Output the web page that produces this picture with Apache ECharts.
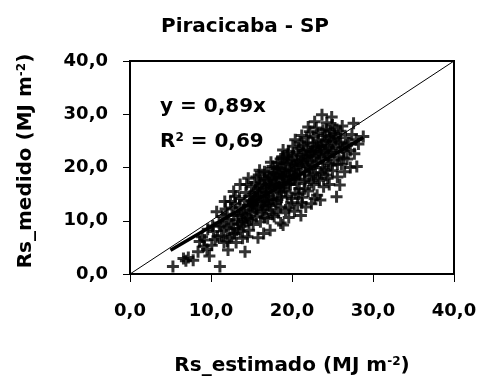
<!DOCTYPE html>
<html>
<head>
<meta charset="utf-8">
<script src="https://cdn.jsdelivr.net/npm/echarts@6/dist/echarts.min.js"></script>
<style>html,body{margin:0;padding:0;background:#fff;}#c{width:480px;height:381px;}</style>
</head>
<body>
<div id="c"></div>
<script>
const titleText = 'Piracicaba - SP';
const tickLabels = ['0,0', '10,0', '20,0', '30,0', '40,0'];
const equationText = 'y = 0,89x';
const r2Value = '0,69';
const oneToOne = [[0, 0], [40, 40]];
const fitLine = [[5, 4.45], [28.8, 25.63]];
const points = [
[5.3,1.4],[6.6,2.9],[7.8,2.6],[7.2,3.1],[6.9,2.5],[8.4,4.2],[8.6,6.1],[9.8,3.4],[9.1,5.2],[8.9,7.0],[9.5,4.6],
[10.1,5.4],[10.5,6.5],[10.3,8.0],[11.1,1.4],[10.7,11.7],[11.0,9.6],[11.3,7.2],[11.6,5.9],[11.9,8.8],[11.7,13.6],[11.4,10.8],[12.1,4.5],[12.3,6.8],[12.0,11.2],[12.5,9.4],[12.8,15.5],[12.6,12.4],[12.9,7.6],[12.2,10.0],
[13.1,5.9],[13.3,8.5],[13.0,13.2],[13.6,16.8],[13.4,11.0],[13.8,9.8],[13.5,14.2],[13.9,6.7],[14.2,4.2],[14.0,12.0],[14.3,15.3],[14.6,18.0],[14.4,10.5],[14.7,8.2],[14.1,13.8],[14.8,14.6],[14.9,11.6],[14.5,7.0],[15.0,16.4],[15.2,9.3],[15.1,12.9],[15.4,17.2],[15.3,14.0],[15.6,10.8],[15.8,6.8],[15.5,15.6],[15.7,12.2],[15.9,18.6],
[16.0,19.5],[16.2,13.5],[16.1,9.8],[16.4,16.0],[16.3,11.4],[16.6,17.6],[16.5,7.6],[16.8,14.6],[16.7,12.6],[16.9,19.0],[17.0,10.4],[17.2,16.8],[17.1,14.0],[17.3,8.2],[17.5,18.2],[17.4,12.0],[17.6,20.2],[17.7,15.2],[17.8,10.8],[17.9,17.0],[18.0,13.2],[18.2,21.0],[18.1,18.6],[18.3,11.5],[18.4,15.8],[18.5,19.8],[18.6,9.6],[18.7,14.4],[18.8,22.0],[18.9,9.2],[18.9,23.3],[18.8,17.2],[18.6,12.6],
[19.0,16.2],[19.1,20.6],[19.2,12.0],[19.3,18.4],[19.4,14.6],[19.5,22.6],[19.6,10.6],[19.7,19.4],[19.8,16.8],[19.9,13.4],[20.0,21.4],[20.1,24.0],[20.2,17.8],[20.3,11.8],[20.4,15.2],[20.5,20.0],[20.6,22.8],[20.7,13.0],[20.8,18.8],[20.9,16.0],[21.0,24.8],[21.1,11.0],[21.2,20.6],[21.3,14.4],[21.4,23.2],[21.5,17.4],[21.6,19.2],[21.7,12.6],[21.8,25.6],[21.9,21.8],
[22.0,15.6],[22.1,18.4],[22.2,26.7],[22.3,23.0],[22.4,13.2],[22.5,20.4],[22.6,24.6],[22.7,16.8],[22.8,22.0],[22.9,19.0],[23.0,27.4],[23.1,14.8],[23.2,21.2],[23.3,25.2],[23.4,17.6],[23.5,13.9],[23.6,23.6],[23.7,29.9],[23.8,20.0],[23.9,16.4],[24.0,26.0],[24.1,22.4],[24.2,18.6],[24.3,28.4],[24.4,24.2],[24.5,20.8],[24.6,16.8],[24.7,26.8],[24.8,22.8],[24.9,29.5],
[25.0,19.4],[25.1,25.0],[25.2,21.4],[25.3,27.4],[25.5,14.5],[25.4,23.8],[25.6,18.2],[25.7,26.2],[25.8,22.0],[25.9,16.7],[26.0,24.4],[26.1,20.6],[26.2,27.8],[26.4,23.0],[26.5,19.2],[26.6,25.6],[26.8,21.6],[27.0,24.6],[27.2,20.0],[27.4,26.2],[27.6,28.3],[27.7,22.6],[28.0,20.2],[28.2,24.4],[28.8,25.8],[27.9,25.2],
[14.2,11.2],[14.6,12.8],[15.0,13.6],[15.4,11.8],[15.8,14.4],[16.0,15.2],[16.4,13.0],[16.8,16.2],[17.0,17.6],[17.4,16.4],[17.8,18.8],[18.0,16.6],[18.4,17.8],[18.8,19.6],[19.0,18.2],[19.4,20.8],[19.8,21.0],[20.2,19.6],[20.6,21.2],[21.0,22.4],[21.4,21.0],[21.8,23.4],[22.2,22.2],[22.6,23.0],[23.0,24.0],[23.4,22.6],[23.8,24.8],[24.2,25.0],[24.6,23.6],[25.0,23.2],[25.4,25.6],
[15.2,15.0],[16.2,17.0],[17.2,12.8],[18.2,14.0],[19.2,15.6],[20.0,14.2],[20.8,15.0],[21.6,16.0],[22.4,17.2],[23.2,18.0],[24.0,19.6],[24.8,20.4],[14.0,9.0],[15.0,10.2],[16.6,10.6],[17.6,11.2],[19.6,12.4],[21.2,13.4],[22.8,14.2],
[13.2,10.2],[12.8,11.0],[13.6,12.6],[11.8,12.2],[12.4,13.6],[13.0,14.6],[14.4,16.8],[15.6,18.2],[16.6,19.2],[17.4,21.0],[18.6,21.6],[19.6,23.0],[20.4,25.2],[21.2,26.0],[22.0,27.6],[22.8,28.6],[24.2,27.2],[25.0,28.0],[26.0,26.8],[26.8,24.2],[27.2,23.2],
[25.6,20.6],[26.4,21.8],[24.4,18.0],[23.6,19.0],[22.6,18.6],[21.6,17.8],[20.6,17.0],[19.6,16.8],[18.6,15.4],[17.6,14.2],[16.6,13.6],[15.6,12.6],[14.6,10.4],[13.6,8.0],[12.6,7.4],[11.6,8.2],[10.8,7.0],[10.2,9.0],[9.6,8.4],[9.2,6.4],[11.2,9.0],[12.0,6.2],
[15.2,13.2],[15.8,16.0],[16.2,14.6],[16.8,15.4],[17.2,15.6],[17.6,16.8],[18.0,18.0],[18.4,19.0],[18.8,18.2],[19.2,19.4],[19.6,18.6],[20.0,19.0],[20.4,20.4],[20.8,20.6],[21.2,21.6],[21.6,22.0],[22.0,21.2],[22.4,22.6],[22.8,23.8],[23.2,23.2],[23.6,24.2],[24.0,23.0],[24.4,22.0],[24.8,25.4],
[16.4,12.0],[17.0,13.2],[17.8,13.8],[18.4,16.4],[19.0,17.0],[19.8,17.6],[20.4,18.2],[21.0,18.8],[21.8,20.2],[22.2,19.8],[23.0,20.8],[23.6,21.8],[14.8,13.0],[15.4,14.4],[16.0,16.6],[16.6,18.0],[17.2,18.4],[17.8,19.8],[18.2,20.0],[19.0,21.6],[19.4,22.0],[20.2,22.2],[20.8,23.6],[21.4,24.2],[22.0,24.6],[22.6,25.8],[23.2,26.4],[23.8,27.0],
[13.8,11.4],[14.2,9.8],[13.4,9.4],[12.8,8.6],[24.6,25.8],[25.2,26.4],[25.8,24.8],[26.2,23.6]
];

const FONT = 'DejaVu Sans';
const chart = echarts.init(document.getElementById('c'), null, {renderer: 'canvas'});
const plus = 'path://M4.5,0L7.5,0L7.5,4.5L12,4.5L12,7.5L7.5,7.5L7.5,12L4.5,12L4.5,7.5L0,7.5L0,4.5L4.5,4.5Z';
const axisCommon = {
  type: 'value', min: 0, max: 40, interval: 10,
  splitLine: {show: false},
  axisLine: {show: true, onZero: false, lineStyle: {color: '#000', width: 2}},
  axisLabel: {color: '#000', fontFamily: FONT, fontWeight: 'bold', fontSize: 18,
    formatter: v => tickLabels[Math.round(v / 10)]}
};
const richBase = {
  a: {fill: '#000', fontFamily: FONT, fontWeight: 'bold', fontSize: 20},
  s: {fill: '#000', fontFamily: FONT, fontWeight: 'bold', fontSize: 12, verticalAlign: 'top'}
};
chart.setOption({
  animation: false,
  backgroundColor: '#fff',
  grid: {left: 130, top: 61, width: 324, height: 213, show: true, borderColor: '#000', borderWidth: 2, backgroundColor: 'transparent'},
  xAxis: Object.assign({}, axisCommon, {
    axisTick: {show: true, length: 8, lineStyle: {color: '#000'}},
    axisLabel: Object.assign({}, axisCommon.axisLabel, {margin: 28})
  }),
  yAxis: Object.assign({}, axisCommon, {
    axisTick: {show: true, length: 7, lineStyle: {color: '#000'}},
    axisLabel: Object.assign({}, axisCommon.axisLabel, {margin: 22})
  }),
  series: [
    {type: 'line', data: oneToOne, symbol: 'none', lineStyle: {color: '#000', width: 1}, silent: true, z: 1},
    {type: 'line', data: fitLine, symbol: 'none', lineStyle: {color: '#000', width: 3.5}, silent: true, z: 2},
    {type: 'scatter', data: points, symbol: plus, symbolSize: 12, itemStyle: {color: '#000'}, z: 3}
  ],
  graphic: [
    {type: 'text', x: 245, y: 27, style: {text: titleText, fill: '#000', font: 'bold 20px "DejaVu Sans"', align: 'center', verticalAlign: 'middle'}},
    {type: 'text', x: 160, y: 107, style: {text: equationText, fill: '#000', font: 'bold 20px "DejaVu Sans"', verticalAlign: 'middle'}},
    {type: 'text', x: 160, y: 142, style: {text: '{a|R}{s|2}{a| = ' + r2Value + '}', verticalAlign: 'middle', rich: richBase}},
    {type: 'text', x: 292, y: 366, style: {text: '{a|Rs_estimado (MJ m}{s|-2}{a|)}', align: 'center', verticalAlign: 'middle', rich: richBase}},
    {type: 'text', x: 26, y: 161, rotation: Math.PI / 2, style: {text: '{a|Rs_medido (MJ m}{s|-2}{a|)}', align: 'center', verticalAlign: 'middle', rich: richBase}}
  ]
});
</script>
</body>
</html>
